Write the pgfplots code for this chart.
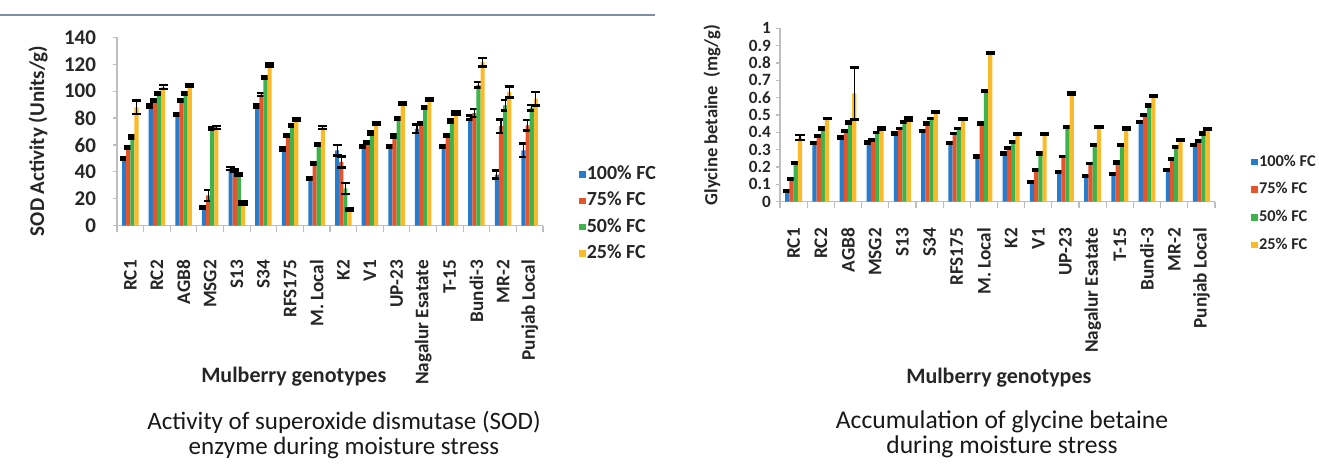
\documentclass[border=0pt]{standalone}
\usepackage{fontspec}
\setmainfont{Carlito}
\usepackage{pgfplots}
\pgfplotsset{compat=1.18}
\usepackage{pgfplotstable}

\definecolor{cB}{RGB}{38,124,204}
\definecolor{cR}{RGB}{232,84,42}
\definecolor{cG}{RGB}{62,178,76}
\definecolor{cY}{RGB}{250,186,42}
\definecolor{axgray}{RGB}{190,190,190}
\definecolor{topline}{RGB}{125,142,170}

\pgfplotstableread{
x b eb r er g eg y ey
0 50 1 58 1 66 1 88 5
1 89 1 93 1 98.5 1 103 1.5
2 82.5 1 93 1 98 1 104 1
3 13.5 1 22.5 4 72 1 73 1
4 42.5 1 40.8 1 38.3 1 16.8 1
5 89 1 97.5 1 110 1 119.5 1
6 57 1 67 1 74.6 1 79 1
7 35 1 46 1 60.5 1 73 1
8 56 4 47.4 4 27.7 4 12 1
9 59 1 62 1 69 1 76 1
10 59 1 66.7 1 79.5 1 90.6 1
11 72 3 76 1 87.7 1 94 1
12 59 1 67 1 77.8 1 83.7 1
13 80.3 1.5 83.7 3 104.7 2 121.5 3
14 38 3 74 5 89.4 4 99.3 4
15 56 5 74.6 4 87.7 2 94.4 5
}\sod

\pgfplotstableread{
x b eb r er g eg y ey
0 0.062 0.005 0.13 0.005 0.225 0.005 0.37 0.015
1 0.337 0.005 0.38 0.003 0.423 0.005 0.48 0.003
2 0.37 0.005 0.408 0.003 0.456 0.005 0.625 0.15
3 0.342 0.005 0.355 0.003 0.40 0.003 0.423 0.005
4 0.394 0.005 0.423 0.003 0.458 0.005 0.477 0.01
5 0.408 0.003 0.452 0.005 0.48 0.003 0.519 0.003
6 0.337 0.003 0.394 0.003 0.423 0.003 0.477 0.005
7 0.26 0.005 0.452 0.005 0.638 0.005 0.856 0.005
8 0.279 0.005 0.308 0.005 0.346 0.005 0.389 0.005
9 0.115 0.005 0.183 0.005 0.279 0.005 0.389 0.003
10 0.173 0.003 0.26 0.003 0.429 0.005 0.625 0.005
11 0.148 0.003 0.221 0.003 0.327 0.005 0.429 0.005
12 0.158 0.005 0.227 0.005 0.327 0.003 0.423 0.005
13 0.458 0.005 0.5 0.005 0.554 0.005 0.611 0.003
14 0.183 0.003 0.246 0.005 0.314 0.005 0.356 0.005
15 0.327 0.003 0.35 0.003 0.394 0.005 0.42 0.003
}\gb

\pgfplotsset{
  mybar/.style={ybar, bar width=0.155, draw=none, fill=#1,
    error bars/.cd, y dir=both, y explicit,
    error bar style={black, line width=0.6pt},
    error mark options={black, rotate=90, mark size=2.3pt, line width=1.3pt}},
  common/.style={
    scale only axis,
    ybar=0pt,
    xmin=-0.5, xmax=15.5, ymin=0,
    axis x line*=bottom, axis y line*=left,
    axis line style={axgray, line width=0.6pt},
    tick align=outside,
    xtick={0,...,15},
    xticklabels={RC1,RC2,AGB8,MSG2,S13,S34,RFS175,M. Local,K2,V1,UP-23,Nagalur Esatate,T-15,Bundi-3,MR-2,Punjab Local},
    minor xtick={-0.5,0.5,...,15.5},
    major x tick style={draw=none},
    minor x tick style={axgray, line width=0.6pt},
    minor tick length=3pt,
    major tick length=2pt,
    y tick style={axgray, line width=0.6pt},
    xticklabel style={rotate=90, anchor=east, inner sep=0pt, font=\bfseries\fontsize{9.6}{10}\selectfont, text=black!85},
    /pgf/number format/assume math mode=true,
    legend cell align=left,
    legend image code/.code={\fill[##1] (0pt,-1.6pt) rectangle (3.2pt,1.6pt);},
    xlabel={Mulberry genotypes},
    xlabel style={anchor=center, font=\bfseries\fontsize{11}{12}\selectfont, text=black!85},
    ylabel style={anchor=center, font=\bfseries\fontsize{10.5}{12}\selectfont, text=black!85},
  },
}

\begin{document}
\begin{tikzpicture}
\draw[topline, line width=0.7pt] (0pt,-7.5pt) -- (327.5pt,-7.5pt);

% ---------- left chart ----------
\begin{axis}[common,
  at={(58.5pt,-112.85pt)}, anchor=south west,
  width=213pt, height=94.2pt,
  ymax=140, ytick={0,20,...,140},
  yticklabel style={font=\bfseries\fontsize{10.5}{11}\selectfont, text=black!85, xshift=-5pt},
  xticklabel shift=15pt,
  xlabel style={at={(axis description cs:0.415,-0.80)}},
  ylabel={SOD Activity (Units/g)},
  ylabel style={at={(axis description cs:-0.185,0.45)}},
  legend style={at={(axis description cs:1.07,0.062)}, anchor=west, draw=none, fill=none,
    font=\bfseries\fontsize{10}{11}\selectfont, text=black!85, row sep=3pt,
    nodes={inner sep=0.6pt, text height=7pt, text depth=2pt}},
]
\addplot[mybar=cB] table[x=x, y=b, y error=eb] {\sod};
\addplot[mybar=cR] table[x=x, y=r, y error=er] {\sod};
\addplot[mybar=cG] table[x=x, y=g, y error=eg] {\sod};
\addplot[mybar=cY] table[x=x, y=y, y error=ey] {\sod};
\legend{100\% FC, 75\% FC, 50\% FC, 25\% FC}
\end{axis}

% ---------- right chart ----------
\begin{axis}[common,
  at={(390pt,-100.85pt)}, anchor=south west,
  width=217.5pt, height=86.7pt,
  ymax=1, ytick={0,0.1,0.2,0.3,0.4,0.5,0.6,0.7,0.8,0.9,1},
  yticklabel style={font=\bfseries\fontsize{8.6}{9}\selectfont, text=black!85, xshift=1pt},
  xticklabel shift=11pt,
  xlabel style={at={(axis description cs:0.503,-1.017)}},
  ylabel={Glycine betaine~\ (mg/g)},
  ylabel style={at={(axis description cs:-0.156,0.5)}, font=\bfseries\fontsize{9.3}{10}\selectfont},
  legend style={at={(axis description cs:1.069,-0.01)}, anchor=west, draw=none, fill=none,
    font=\bfseries\fontsize{8.2}{9}\selectfont, text=black!85, row sep=5pt,
    nodes={inner sep=0.6pt, text height=6pt, text depth=1.7pt}},
]
\addplot[mybar=cB] table[x=x, y=b, y error=eb] {\gb};
\addplot[mybar=cR] table[x=x, y=r, y error=er] {\gb};
\addplot[mybar=cG] table[x=x, y=g, y error=eg] {\gb};
\addplot[mybar=cY] table[x=x, y=y, y error=ey] {\gb};
\legend{100\% FC, 75\% FC, 50\% FC, 25\% FC}
\end{axis}

% ---------- captions ----------
\node[anchor=base, font=\fontsize{12.5}{13}\selectfont, text=black!90] at (172pt,-214.6pt) {Activity of superoxide dismutase (SOD)};
\node[anchor=base, font=\fontsize{12.5}{13}\selectfont, text=black!90] at (172pt,-227.1pt) {enzyme during moisture stress};
\node[anchor=base, font=\fontsize{12.8}{13}\selectfont, text=black!90] at (501pt,-214.1pt) {Accumulation of glycine betaine};
\node[anchor=base, font=\fontsize{12.8}{13}\selectfont, text=black!90] at (501pt,-226.6pt) {during moisture stress};

\pgfresetboundingbox
\useasboundingbox (0pt,0pt) rectangle (659.5pt,-231.5pt);
\end{tikzpicture}
\end{document}
